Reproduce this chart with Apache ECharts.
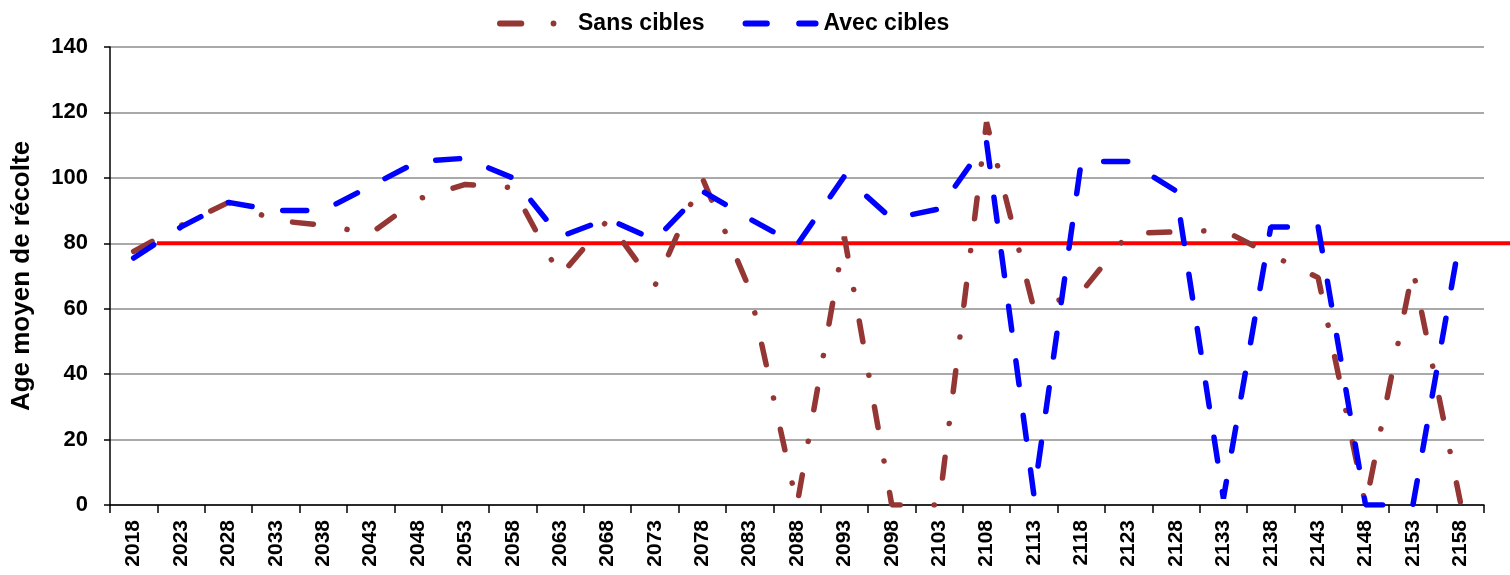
<!DOCTYPE html>
<html>
<head>
<meta charset="utf-8">
<script src="https://cdn.jsdelivr.net/npm/echarts@6/dist/echarts.min.js"></script>
<style>
  html, body { margin: 0; padding: 0; background: #fff; }
  #main { width: 1510px; height: 575px; }
</style>
</head>
<body>
<div id="main"></div>
<script>
// annees (une tous les 5 ans)
var years = ['2018','2023','2028','2033','2038','2043','2048','2053','2058','2063',
  '2068','2073','2078','2083','2088','2093','2098','2103','2108','2113',
  '2118','2123','2128','2133','2138','2143','2148','2153','2158'];

var sansCibles = [77.5, 85.5, 92.5, 87, 85.5, 83, 93.5, 98, 97, 70,
  87, 67, 100, 66, 0, 82, 0, 0, 117, 60,
  65, 83, 83.5, 84, 76.5, 69.5, 0, 72, 1];

var avecCibles = [75.5, 85, 92.5, 90, 90, 97.5, 105, 106, 100, 82,
  87.5, 81, 96, 87.5, 79.5, 100.5, 87.5, 90.5, 111, 3,
  105, 105, 96, 2, 85, 85, 0, 0, 82];

var yTicks = [0, 20, 40, 60, 80, 100, 120, 140];
var ageCible = 80;

var font = 'Liberation Sans, Arial, sans-serif';

// icones de legende: tiret + point / tiret + tiret (le dernier M sert juste a fixer la largeur)
var iconSans = 'path://M3,0 L25,0 A3,3 0 0 1 25,6 L3,6 A3,3 0 0 1 3,0 Z ' +
  'M58,0 A3,3 0 1 1 58,6 A3,3 0 1 1 58,0 Z M78,3 L78,3.01 Z';
var iconAvec = 'path://M3,0 L25,0 A3,3 0 0 1 25,6 L3,6 A3,3 0 0 1 3,0 Z ' +
  'M58,0 L75,0 A3,3 0 0 1 75,6 L58,6 A3,3 0 0 1 58,0 Z';

var chart = echarts.init(document.getElementById('main'));

var option = {
  animation: false,
  backgroundColor: '#fff',
  legend: {
    top: 7,
    left: 492,
    itemWidth: 76,
    itemHeight: 6,
    itemGap: 38,
    textStyle: {fontFamily: font, fontWeight: 'bold', fontSize: 23, color: '#000'},
    data: [
      {name: 'Sans cibles', icon: iconSans},
      {name: 'Avec cibles', icon: iconAvec}
    ]
  },
  grid: [
    {left: 110, right: 26, top: 47, bottom: 70},
    {left: 157, right: 0, top: 47, bottom: 70}
  ],
  xAxis: [
    {
      type: 'category',
      data: years,
      boundaryGap: true,
      axisLine: {lineStyle: {color: '#000', width: 1.5}},
      axisTick: {show: true, interval: 0, length: 8, lineStyle: {color: '#000', width: 1.5}},
      axisLabel: {
        interval: 0, rotate: 90, margin: 15,
        fontFamily: font, fontWeight: 'bold', fontSize: 21, color: '#000'
      },
      splitLine: {show: false}
    },
    {
      type: 'value', gridIndex: 1, min: 0, max: 1, show: false
    }
  ],
  yAxis: [
    {
      type: 'value',
      min: yTicks[0],
      max: yTicks[yTicks.length - 1],
      interval: 20,
      name: 'Age moyen de récolte',
      nameLocation: 'middle',
      nameGap: 75,
      nameTextStyle: {fontFamily: font, fontWeight: 'bold', fontSize: 26, color: '#000'},
      axisLine: {show: true, lineStyle: {color: '#000', width: 1.5}},
      axisTick: {show: true, length: 6, lineStyle: {color: '#000', width: 1.5}},
      axisLabel: {margin: 22, fontFamily: font, fontWeight: 'bold', fontSize: 22, color: '#000'},
      splitLine: {lineStyle: {color: '#8c8c8c', width: 1.5}}
    },
    {
      type: 'value', gridIndex: 1, min: yTicks[0], max: yTicks[yTicks.length - 1], show: false
    }
  ],
  series: [
    {
      name: 'Cible',
      type: 'line',
      xAxisIndex: 1,
      yAxisIndex: 1,
      data: [[0, ageCible], [1, ageCible]],
      symbol: 'none',
      z: 1,
      lineStyle: {color: '#ff0000', width: 4},
      silent: true
    },
    {
      name: 'Sans cibles',
      type: 'line',
      data: sansCibles,
      symbol: 'none',
      z: 2,
      color: '#943634',
      lineStyle: {color: '#943634', width: 5.5, type: [21, 34, 0.1, 32], cap: 'round'}
    },
    {
      name: 'Avec cibles',
      type: 'line',
      data: avecCibles,
      symbol: 'none',
      z: 3,
      color: '#0000ff',
      lineStyle: {color: '#0000ff', width: 5.5, type: [24, 31], cap: 'round'}
    }
  ]
};

chart.setOption(option);
</script>
</body>
</html>
